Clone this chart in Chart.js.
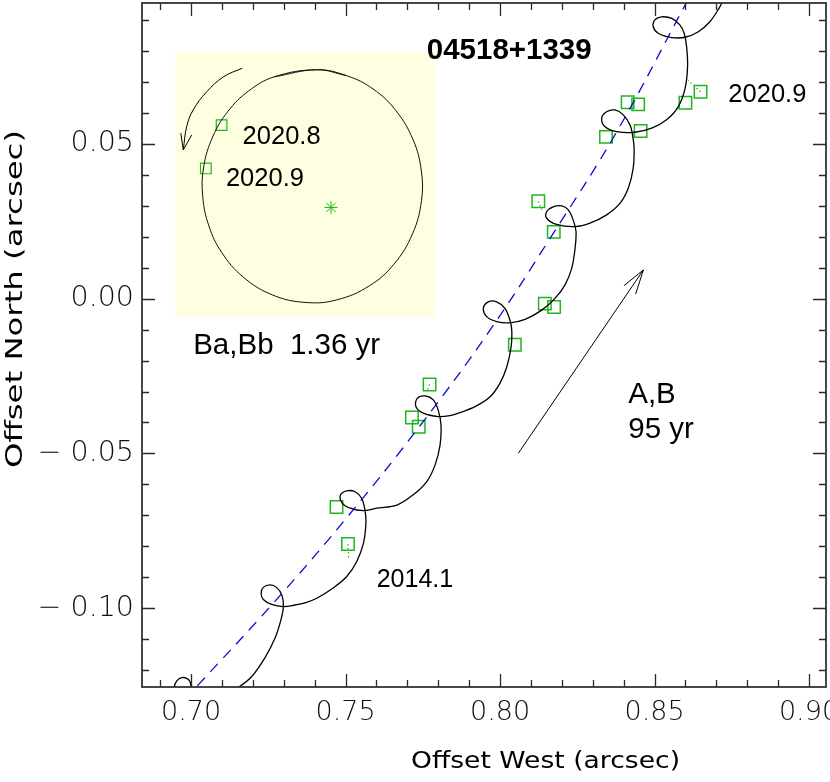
<!DOCTYPE html>
<html><head><meta charset="utf-8">
<script src="https://cdn.jsdelivr.net/npm/chart.js@4.4.1/dist/chart.umd.min.js"></script>
<style>html,body{margin:0;padding:0;background:#fff;}#wrap{width:830px;height:782px;}</style>
</head><body><div id="wrap"><canvas id="c" width="830" height="782"></canvas></div>
<script>
// ---- axes ----
const xRange = [0.68414, 0.90550];
const yRange = [-0.12550, 0.09557];
const xTickValues = [0.70, 0.75, 0.80, 0.85, 0.90];
const xTickLabels = ['0.70', '0.75', '0.80', '0.85', '0.90'];
const yTickValues = [-0.10, -0.05, 0.00, 0.05];
const yTickLabels = ['\u2212 0.10', '\u2212 0.05', '0.00', '0.05'];
const xTitle = 'Offset West (arcsec)';
const yTitle = 'Offset North (arcsec)';

// ---- A,B orbit (95 yr), blue dashed ----
const abX = [0.6979, 0.7018, 0.7261, 0.7498, 0.7747, 0.7968, 0.8162, 0.8378, 0.8599, 0.8615];
const abY = [-0.1297, -0.1254, -0.0990, -0.0715, -0.0403, -0.0101, 0.0195, 0.0540, 0.0949, 0.0978];

// ---- combined wobbling orbit, black ----
const wobX = [0.7000, 0.7000, 0.6997, 0.6986, 0.6970, 0.6954, 0.6946, 0.6951, 0.6981, 0.7029, 0.7100, 0.7155,
  0.7196, 0.7239, 0.7272, 0.7291, 0.7299, 0.7294, 0.7277, 0.7256, 0.7234, 0.7227, 0.7234, 0.7261, 0.7299, 0.7337, 0.7369,
  0.7407, 0.7460, 0.7504, 0.7536, 0.7558, 0.7566, 0.7563, 0.7552, 0.7531, 0.7504, 0.7484, 0.7488, 0.7515, 0.7558, 0.7601,
  0.7666, 0.7719, 0.7763, 0.7790, 0.7806, 0.7809, 0.7800, 0.7784, 0.7757, 0.7732, 0.7728, 0.7752, 0.7800, 0.7838,
  0.7865, 0.7919, 0.7968, 0.8000, 0.8022, 0.8036, 0.8038, 0.8032, 0.8016, 0.7989, 0.7962, 0.7946, 0.7957, 0.7989, 0.8032, 0.8081,
  0.8135, 0.8178, 0.8210, 0.8232, 0.8243, 0.8246, 0.8237, 0.8221, 0.8200, 0.8172, 0.8151, 0.8151, 0.8183, 0.8243, 0.8291,
  0.8345, 0.8388, 0.8415, 0.8431, 0.8434, 0.8429, 0.8421, 0.8399, 0.8372, 0.8345, 0.8329, 0.8340, 0.8378, 0.8437,
  0.8491, 0.8539, 0.8577, 0.8599, 0.8607, 0.8604, 0.8596, 0.8582, 0.8556, 0.8523, 0.8501, 0.8496, 0.8512, 0.8556, 0.8599,
  0.8642, 0.8679, 0.8709, 0.8722, 0.8738];
const wobY = [-0.1297, -0.1256, -0.1238, -0.1227, -0.1225, -0.1235, -0.1256, -0.1287, -0.1307, -0.1303, -0.1287, -0.1255,
  -0.1222, -0.1161, -0.1097, -0.1038, -0.0995, -0.0958, -0.0933, -0.0925, -0.0933, -0.0952, -0.0972, -0.0988, -0.0995, -0.0990, -0.0983,
  -0.0968, -0.0935, -0.0898, -0.0850, -0.0791, -0.0726, -0.0683, -0.0645, -0.0624, -0.0621, -0.0634, -0.0659, -0.0677, -0.0685, -0.0677,
  -0.0667, -0.0634, -0.0591, -0.0537, -0.0473, -0.0408, -0.0360, -0.0327, -0.0314, -0.0322, -0.0349, -0.0370, -0.0381, -0.0378,
  -0.0370, -0.0349, -0.0317, -0.0273, -0.0220, -0.0155, -0.0101, -0.0069, -0.0031, -0.0010, -0.0010, -0.0031, -0.0058, -0.0074, -0.0078, -0.0067,
  -0.0037, 0.0001, 0.0044, 0.0098, 0.0163, 0.0217, 0.0254, 0.0287, 0.0300, 0.0297, 0.0281, 0.0260, 0.0240, 0.0233, 0.0244,
  0.0271, 0.0308, 0.0357, 0.0421, 0.0486, 0.0529, 0.0561, 0.0594, 0.0610, 0.0604, 0.0583, 0.0556, 0.0540, 0.0538,
  0.0551, 0.0578, 0.0621, 0.0680, 0.0750, 0.0814, 0.0858, 0.0885, 0.0906, 0.0911, 0.0901, 0.0879, 0.0858, 0.0844, 0.0845,
  0.0863, 0.0895, 0.0939, 0.0965, 0.0998];

// ---- measured positions (green squares) ----
const obsX = [0.7471, 0.7508, 0.7715, 0.7737, 0.7772, 0.8048, 0.8124, 0.8174, 0.8145, 0.8175, 0.8343, 0.8455, 0.8413, 0.8447, 0.8600, 0.8649];
const obsY = [-0.0673, -0.0793, -0.0384, -0.0414, -0.0277, -0.0149, 0.0315, 0.0216, -0.0016, -0.0027, 0.0523, 0.0542, 0.0635, 0.0628, 0.0633, 0.0669];
// residual ticks: from measurement to model position
const resFromX = [0.7508, 0.7772, 0.8124, 0.8649];
const resFromY = [-0.0793, -0.0277, 0.0315, 0.0669];
const resToX = [0.7511, 0.7763, 0.8135, 0.8609];
const resToY = [-0.0845, -0.0302, 0.0287, 0.0705];

// ---- inset: Ba,Bb orbit (1.36 yr), closed loop ----
const insetBox = [0.6948, -0.0058, 0.7790, 0.0798];
const innerX = [0.7407, 0.7503, 0.7589, 0.7663, 0.7719, 0.7745, 0.7746, 0.7717, 0.7657, 0.7578, 0.7471, 0.7369,
  0.7264, 0.7169, 0.7099, 0.7058, 0.7038, 0.7041, 0.7071, 0.7120, 0.7186, 0.7269];
const innerY = [0.0740, 0.0721, 0.0678, 0.0608, 0.0513, 0.0416, 0.0318, 0.0210, 0.0112, 0.0042, -0.0004, -0.0012,
  0.0012, 0.0070, 0.0150, 0.0235, 0.0330, 0.0426, 0.0525, 0.0606, 0.0671, 0.0717];
const innerObsX = [0.7099, 0.7048];
const innerObsY = [0.0561, 0.0421];
const innerCenter = [0.7453, 0.0295];
const curvArrowX = [0.7166, 0.7105, 0.7051, 0.7007, 0.6986, 0.6975];
const curvArrowY = [0.0745, 0.0717, 0.0669, 0.0610, 0.0556, 0.0481];
const curvHeadX = [0.6967, 0.6975, 0.7002];
const curvHeadY = [0.0535, 0.0481, 0.0529];

// ---- A,B motion arrow ----
const motionX = [0.8059, 0.8464];
const motionY = [-0.0500, 0.0093];
const motionHeadX = [0.8401, 0.8464, 0.8439];
const motionHeadY = [0.0042, 0.0093, 0.0015];

// ---- annotations ----
const labelText = ['04518+1339', '2020.9', '2014.1', 'A,B', '95 yr', '2020.8', '2020.9', 'Ba,Bb  1.36 yr'];
const labelX = [0.7763, 0.8739, 0.7601, 0.8415, 0.8415, 0.7167, 0.7113, 0.7007];
const labelY = [0.0774, 0.0637, -0.0933, -0.0338, -0.0451, 0.0500, 0.0365, -0.0180];
const labelSize = [29.5, 25.5, 25, 29.5, 29.5, 25.5, 25.5, 29.5];
const labelBold = [true, false, false, false, false, false, false, false];

const zip = (xs, ys) => xs.map((v, i) => ({x: v, y: ys[i]}));
const innerPts = zip(innerX, innerY);
const innerRing = [innerPts[innerPts.length - 1], ...innerPts, innerPts[0], innerPts[1]];
const GREEN = '#1fb51f';

const datasets = [
  {data: zip(abX, abY), showLine: true, borderColor: '#0a0ad2', borderWidth: 1.3, borderDash: [11, 8],
   pointRadius: 0, tension: 0.4},
  {data: zip(wobX, wobY), showLine: true, borderColor: '#000', borderWidth: 1.3, pointRadius: 0, tension: 0.35},
  {data: zip(obsX, obsY), showLine: false, pointStyle: 'rect', pointRadius: 8.8, borderColor: GREEN,
   backgroundColor: 'rgba(0,0,0,0)', borderWidth: 1.5},
  {data: innerRing, showLine: true, borderColor: '#111', borderWidth: 1, pointRadius: 0, tension: 0.4},
  {data: zip(innerObsX, innerObsY), showLine: false, pointStyle: 'rect', pointRadius: 7.5, borderColor: GREEN,
   backgroundColor: 'rgba(0,0,0,0)', borderWidth: 1.2},
  {data: [{x: innerCenter[0], y: innerCenter[1]}], showLine: false, pointStyle: 'star', pointRadius: 6.5,
   borderColor: GREEN, borderWidth: 1},
  {data: zip(curvArrowX, curvArrowY), showLine: true, borderColor: '#000', borderWidth: 1, pointRadius: 0, tension: 0.4},
  {data: zip(curvHeadX, curvHeadY), showLine: true, borderColor: '#000', borderWidth: 1, pointRadius: 0, tension: 0},
  {data: zip(motionX, motionY), showLine: true, borderColor: '#000', borderWidth: 1, pointRadius: 0, tension: 0},
  {data: zip(motionHeadX, motionHeadY), showLine: true, borderColor: '#000', borderWidth: 1, pointRadius: 0, tension: 0}
];
resFromX.forEach((v, i) => datasets.push({
  data: [{x: v, y: resFromY[i]}, {x: resToX[i], y: resToY[i]}], showLine: true, borderColor: GREEN,
  borderWidth: 1.2, borderDash: [1.5, 2.5], pointRadius: 0
}));

const insetBg = {
  id: 'insetBg',
  beforeDatasetsDraw(chart) {
    const {ctx, scales: {x, y}} = chart;
    const x1 = x.getPixelForValue(insetBox[0]), x2 = x.getPixelForValue(insetBox[2]);
    const y1 = y.getPixelForValue(insetBox[3]), y2 = y.getPixelForValue(insetBox[1]);
    ctx.save();
    ctx.fillStyle = '#fefee0';
    ctx.fillRect(x1, y1, x2 - x1, y2 - y1);
    ctx.restore();
  }
};

const frame = {
  id: 'frame',
  afterDatasetsDraw(chart) {
    const {ctx, chartArea: a, scales: {x, y}} = chart;
    ctx.save();
    ctx.strokeStyle = '#2a2a2a';
    ctx.lineWidth = 1.3;
    ctx.beginPath();
    for (let i = 69; i <= 90; i++) {
      const px = Math.round(x.getPixelForValue(i / 100)) + 0.5;
      const L = (i % 5 === 0) ? 13 : 7;
      ctx.moveTo(px, a.bottom); ctx.lineTo(px, a.bottom - L);
      ctx.moveTo(px, a.top); ctx.lineTo(px, a.top + L);
    }
    for (let i = -12; i <= 9; i++) {
      const py = Math.round(y.getPixelForValue(i / 100)) + 0.5;
      const L = (i % 5 === 0) ? 13 : 7;
      ctx.moveTo(a.left, py); ctx.lineTo(a.left + L, py);
      ctx.moveTo(a.right, py); ctx.lineTo(a.right - L, py);
    }
    ctx.stroke();
    ctx.lineWidth = 1.8;
    ctx.strokeStyle = '#333';
    ctx.strokeRect(a.left, a.top, a.right - a.left, a.bottom - a.top);

    // annotations
    ctx.fillStyle = '#000';
    ctx.textAlign = 'left';
    ctx.textBaseline = 'alphabetic';
    labelText.forEach((t, i) => {
      ctx.font = (labelBold[i] ? 'bold ' : '') + labelSize[i] + 'px "Liberation Sans", Arial, sans-serif';
      ctx.fillText(t, x.getPixelForValue(labelX[i]), y.getPixelForValue(labelY[i]));
    });

    // axis titles
    ctx.font = '23px "DejaVu Sans", sans-serif';
    ctx.textAlign = 'center';
    ctx.textBaseline = 'middle';
    let w = ctx.measureText(xTitle).width;
    ctx.save();
    ctx.translate(545.5, 762.5);
    ctx.scale(269 / w, 1);
    ctx.fillText(xTitle, 0, 0);
    ctx.restore();
    w = ctx.measureText(yTitle).width;
    ctx.save();
    ctx.translate(16, 299);
    ctx.rotate(-Math.PI / 2);
    ctx.scale(338 / w, 1);
    ctx.fillText(yTitle, 0, 0);
    ctx.restore();
    ctx.restore();
  }
};

new Chart(document.getElementById('c'), {
  type: 'scatter',
  data: {datasets},
  options: {
    responsive: false, animation: false, events: [],
    layout: {autoPadding: false, padding: {top: 3, right: 4, left: 0, bottom: 0}},
    plugins: {legend: {display: false}, tooltip: {enabled: false}},
    scales: {
      x: {
        type: 'linear', min: xRange[0], max: xRange[1],
        grid: {display: false, drawTicks: false}, border: {display: false},
        afterBuildTicks: s => { s.ticks = xTickValues.map(v => ({value: v})); },
        afterFit: s => { s.height = 95; s.paddingLeft = 0; s.paddingRight = 0; },
        ticks: {autoSkip: false, maxRotation: 0, padding: 10, color: '#111',
          font: {family: '"DejaVu Sans", sans-serif', size: 27, weight: 200},
          callback: (v, i) => xTickLabels[i]}
      },
      y: {
        type: 'linear', min: yRange[0], max: yRange[1],
        grid: {display: false, drawTicks: false}, border: {display: false},
        afterBuildTicks: s => { s.ticks = yTickValues.map(v => ({value: v})); },
        afterFit: s => { s.width = 142; s.paddingTop = 0; s.paddingBottom = 0; },
        ticks: {autoSkip: false, padding: 8, color: '#111',
          font: {family: '"DejaVu Sans", sans-serif', size: 28.5, weight: 200},
          callback: (v, i) => yTickLabels[i]}
      }
    }
  },
  plugins: [insetBg, frame]
});
</script></body></html>
